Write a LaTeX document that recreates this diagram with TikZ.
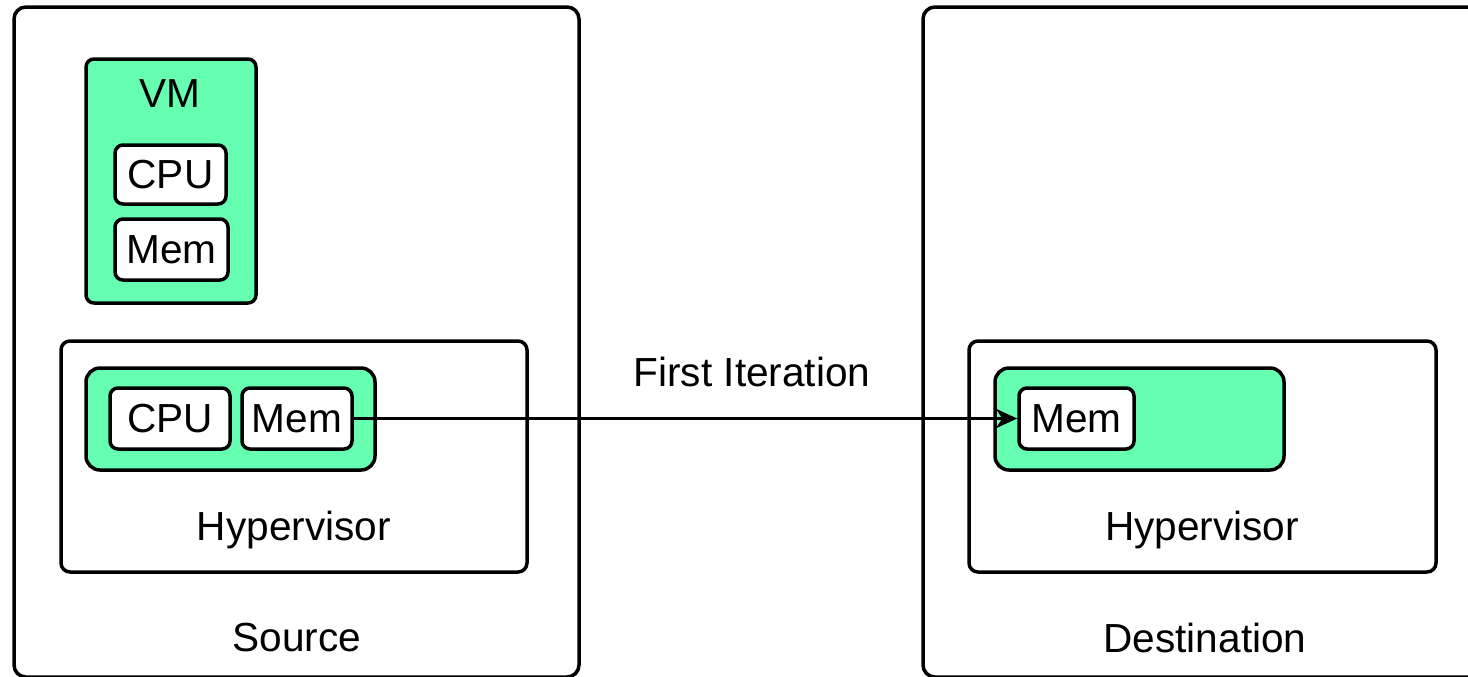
\documentclass[tikz,border=0pt]{standalone}
\usepackage{fontspec}
\setmainfont{Liberation Sans}
\usetikzlibrary{arrows.meta}
\definecolor{vmgreen}{HTML}{66FFB2}
\begin{document}
\begin{tikzpicture}[x=0.5pt,y=-0.5pt,
  every node/.style={font=\fontsize{20.3pt}{24pt}\selectfont, inner sep=0pt},
  bigbox/.style={draw, line width=1.75pt, rounded corners=6pt, fill=white},
  greenbox/.style={draw, line width=1.75pt, rounded corners=7pt, fill=vmgreen},
  smallbox/.style={draw, line width=1.75pt, rounded corners=4pt, fill=white},
  lbl/.style={anchor=center}]
\useasboundingbox (0,0) rectangle (1468,676);
\begin{scope}
\clip (0,0) rectangle (1468,676);
% outer hosts
\node[bigbox, minimum width=282.5pt, minimum height=335pt] (src) at (296.5,342) {};
\node[bigbox, minimum width=283.5pt, minimum height=335pt] (dst) at (1206.5,342) {};
% VM
\node[greenbox, rounded corners=4pt, minimum width=85pt, minimum height=122pt] (vm) at (171,181) {};
\node[lbl] (vmlbl) at (170,94) {VM};
\node[smallbox, minimum width=55.5pt, minimum height=29.5pt] (vmcpu) at (170.5,174.5) {CPU};
\node[smallbox, minimum width=56.5pt, minimum height=30.5pt] (vmmem) at (171.5,249.5) {Mem};
% source hypervisor
\node[bigbox, rounded corners=4.5pt, minimum width=233pt, minimum height=115.5pt] (shyp) at (294,456.5) {};
\node[lbl] (shyplbl) at (294,530) {Hypervisor};
\node[greenbox, minimum width=144.5pt, minimum height=51pt] (sgreen) at (230.5,419) {};
\node[smallbox, minimum width=60pt, minimum height=30.5pt] (scpu) at (170,418.5) {CPU};
\node[smallbox, minimum width=55pt, minimum height=30.5pt] (smem) at (297,418.5) {Mem};
\node[lbl] (srclbl) at (297,638) {Source};
% destination hypervisor
\node[bigbox, rounded corners=4.5pt, minimum width=233.5pt, minimum height=115.5pt] (dhyp) at (1202.5,456.5) {};
\node[lbl] (dhyplbl) at (1202,530) {Hypervisor};
\node[greenbox, minimum width=144.5pt, minimum height=51pt] (dgreen) at (1139.5,419) {};
\node[smallbox, minimum width=57.5pt, minimum height=30.5pt] (dmem) at (1076.5,418.5) {Mem};
\node[lbl] (dstlbl) at (1205,638) {Destination};
% transfer
\node[lbl] (iter) at (752,372) {First Iteration};
\draw[line width=1.75pt, -{Stealth[length=10.5pt,width=9.5pt,inset=3pt]}] (smem.east) -- (dmem.west);
\end{scope}
\end{tikzpicture}
\end{document}
